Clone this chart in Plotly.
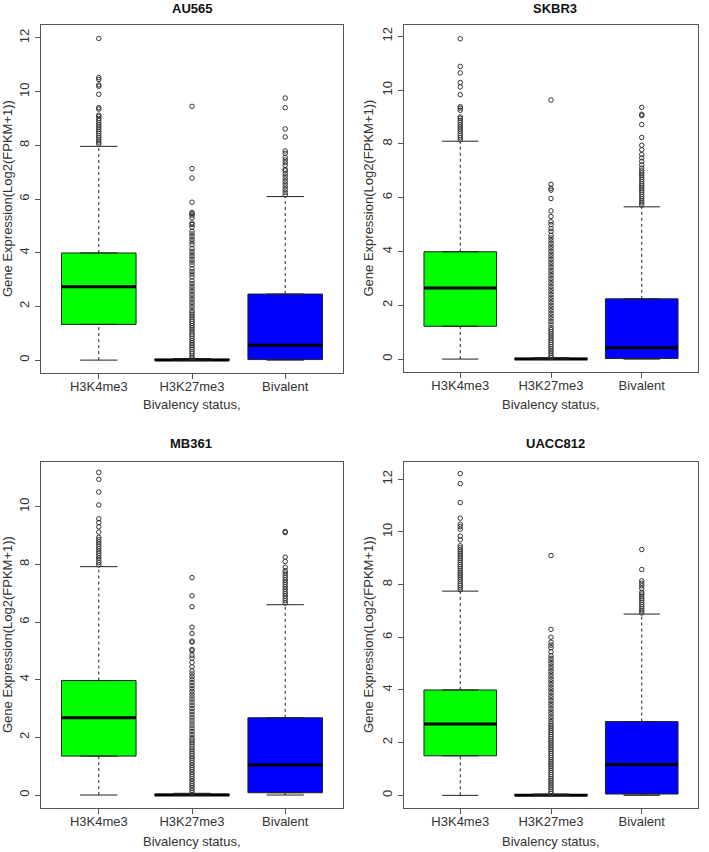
import plotly.graph_objects as go

categories = ["H3K4me3", "H3K27me3", "Bivalent"]
cell_lines = ["AU565", "SKBR3", "MB361", "UACC812"]
box_colors = ["#00ff00", "#000000", "#0000ff"]

# box statistics, one row per cell line, one value per category
lower_whisker = [[0.0, 0.0, 0.0], [0.0, 0.0, 0.0], [0.0, 0.0, 0.0], [0.0, 0.0, 0.0]]
q1 = [[1.33, 0.0, 0.02], [1.22, 0.0, 0.02], [1.35, 0.0, 0.08], [1.5, 0.0, 0.05]]
median = [[2.73, 0.0, 0.55], [2.64, 0.0, 0.42], [2.68, 0.0, 1.04], [2.71, 0.0, 1.17]]
q3 = [[3.99, 0.03, 2.46], [3.99, 0.03, 2.24], [3.97, 0.03, 2.68], [4.0, 0.03, 2.8]]
upper_whisker = [[7.96, 0.06, 6.09], [8.1, 0.05, 5.66], [7.92, 0.06, 6.6], [7.75, 0.05, 6.88]]

# outliers
au565_h3k4 = [8.05, 8.12, 8.2, 8.28, 8.36, 8.44, 8.52, 8.6, 8.68, 8.76, 8.84, 8.92, 9.0, 9.08, 9.12,
              9.35, 9.4, 9.9, 10.2, 10.25, 10.45, 10.52, 11.98]
au565_h3k27 = [0.08, 0.16, 0.24, 0.32, 0.4, 0.48, 0.56, 0.64, 0.72, 0.8, 0.88, 0.96, 1.04, 1.12, 1.2,
               1.28, 1.36, 1.44, 1.52, 1.6, 1.68, 1.76, 1.84, 1.95, 2.05, 2.15, 2.25, 2.35, 2.45, 2.55,
               2.65, 2.75, 2.85, 2.95, 3.1, 3.2, 3.3, 3.4, 3.55, 3.65, 3.75, 3.85, 3.95, 4.05, 4.15,
               4.3, 4.4, 4.5, 4.6, 4.7, 4.8, 4.95, 5.05, 5.1, 5.3, 5.4, 5.45, 5.5, 5.88, 6.78, 7.13, 9.45]
au565_biv = [6.15, 6.25, 6.35, 6.45, 6.55, 6.65, 6.75, 6.85, 6.95, 7.05, 7.1, 7.25, 7.35, 7.45, 7.55,
             7.7, 7.79, 8.31, 8.61, 9.4, 9.76]

skbr3_h3k4 = [8.15, 8.23, 8.31, 8.39, 8.47, 8.55, 8.63, 8.71, 8.79, 8.87, 8.95, 9.0, 9.25, 9.33, 9.38,
              9.83, 10.12, 10.28, 10.64, 10.88, 11.91]
skbr3_h3k27 = [0.06, 0.14, 0.22, 0.3, 0.38, 0.46, 0.54, 0.62, 0.7, 0.78, 0.86, 0.94, 1.02, 1.1, 1.18,
               1.3, 1.4, 1.5, 1.6, 1.7, 1.8, 1.9, 2.0, 2.1, 2.2, 2.3, 2.4, 2.5, 2.6, 2.7, 2.8, 2.9, 3.0,
               3.1, 3.2, 3.3, 3.4, 3.5, 3.6, 3.7, 3.8, 3.9, 4.0, 4.1, 4.2, 4.3, 4.4, 4.5, 4.6, 4.75,
               4.85, 5.0, 5.1, 5.3, 5.51, 5.97, 6.28, 6.35, 6.5, 9.63]
skbr3_biv = [5.72, 5.8, 5.88, 5.96, 6.04, 6.12, 6.2, 6.28, 6.36, 6.44, 6.52, 6.6, 6.68, 6.76, 6.84,
             6.92, 7.0, 7.1, 7.22, 7.35, 7.48, 7.6, 7.78, 7.95, 8.24, 8.72, 9.05, 9.1, 9.36]

mb361_h3k4 = [7.98, 8.06, 8.14, 8.22, 8.3, 8.38, 8.46, 8.54, 8.62, 8.7, 8.78, 8.86, 8.94, 9.12, 9.3,
              9.45, 9.58, 10.06, 10.51, 10.95, 11.19]
mb361_h3k27 = [0.08, 0.16, 0.24, 0.32, 0.4, 0.48, 0.56, 0.64, 0.72, 0.8, 0.88, 0.96, 1.04, 1.12, 1.2,
               1.28, 1.36, 1.44, 1.52, 1.6, 1.68, 1.76, 1.84, 1.92, 2.0, 2.1, 2.2, 2.3, 2.4, 2.5, 2.6,
               2.7, 2.8, 2.9, 3.0, 3.1, 3.2, 3.3, 3.4, 3.5, 3.6, 3.7, 3.8, 3.9, 4.0, 4.1, 4.2, 4.3,
               4.45, 4.6, 4.75, 4.85, 5.0, 5.05, 5.3, 5.34, 5.6, 5.82, 6.53, 6.91, 7.54]
mb361_biv = [6.66, 6.74, 6.82, 6.9, 6.98, 7.06, 7.14, 7.22, 7.3, 7.38, 7.46, 7.54, 7.62, 7.7, 7.78,
             7.9, 8.1, 8.25, 9.1, 9.14]

uacc812_h3k4 = [7.8, 7.88, 7.96, 8.04, 8.12, 8.2, 8.28, 8.36, 8.44, 8.52, 8.6, 8.68, 8.76, 8.84, 8.92,
                9.0, 9.08, 9.16, 9.24, 9.32, 9.4, 9.47, 9.7, 9.84, 10.1, 10.2, 10.29, 10.52, 11.11,
                11.83, 12.21]
uacc812_h3k27 = [0.07, 0.15, 0.23, 0.31, 0.39, 0.47, 0.55, 0.63, 0.71, 0.79, 0.87, 0.95, 1.03, 1.11,
                 1.19, 1.27, 1.35, 1.43, 1.51, 1.59, 1.67, 1.75, 1.83, 1.91, 1.99, 2.07, 2.15, 2.23,
                 2.31, 2.39, 2.47, 2.55, 2.63, 2.71, 2.8, 2.9, 3.0, 3.1, 3.2, 3.3, 3.4, 3.5, 3.6, 3.7,
                 3.8, 3.9, 4.0, 4.1, 4.2, 4.3, 4.4, 4.5, 4.6, 4.7, 4.8, 4.9, 5.0, 5.1, 5.2, 5.3, 5.45,
                 5.6, 5.7, 5.81, 6.0, 6.3, 9.1]
uacc812_biv = [6.92, 7.0, 7.08, 7.16, 7.24, 7.32, 7.4, 7.48, 7.56, 7.64, 7.7, 7.85, 7.95, 8.05, 8.14,
               8.57, 9.33]

outliers = [[au565_h3k4, au565_h3k27, au565_biv],
            [skbr3_h3k4, skbr3_h3k27, skbr3_biv],
            [mb361_h3k4, mb361_h3k27, mb361_biv],
            [uacc812_h3k4, uacc812_h3k27, uacc812_biv]]

W, H = 709, 852
FONT = "Liberation Sans, Arial, sans-serif"

# panel frames in pixels (left, right, top, bottom)
frames = [(41, 343, 25, 373), (404, 698, 25, 372), (41, 343, 462, 808), (404, 698, 462, 808)]
y_ranges = [(-0.48, 12.48), (-0.48, 12.42), (-0.45, 11.55), (-0.48, 12.65)]
y_ticks = [[0, 2, 4, 6, 8, 10, 12], [0, 2, 4, 6, 8, 10, 12], [0, 2, 4, 6, 8, 10], [0, 2, 4, 6, 8, 10, 12]]
title_pos = [(192, 8), (555, 8), (191, 443), (555, 443)]
xlab_y = [405, 405, 841, 841]
ylab_x = [7, 368, 7, 368]

fig = go.Figure()
layout = dict(width=W, height=H, margin=dict(l=0, r=0, t=0, b=0), autosize=False,
              plot_bgcolor="white", paper_bgcolor="white", showlegend=False,
              font=dict(family=FONT, size=13, color="#333"))
annotations = []

for p in range(4):
    sfx = "" if p == 0 else str(p + 1)
    xa, ya = "x" + sfx, "y" + sfx
    l, r, t, b = frames[p]
    axis_common = dict(showline=True, linecolor="#555", linewidth=1, mirror=True, showgrid=False,
                       zeroline=False, ticks="outside", ticklen=5, tickcolor="#555",
                       tickfont=dict(family=FONT, size=13, color="#333"))
    layout["xaxis" + sfx] = dict(axis_common, domain=[l / W, r / W], anchor=ya,
                                 range=[0.38, 3.62], tickvals=[1, 2, 3], ticktext=categories,
                                 ticklabelstandoff=-4)
    layout["yaxis" + sfx] = dict(axis_common, domain=[1 - b / H, 1 - t / H], anchor=xa,
                                 range=list(y_ranges[p]), tickvals=y_ticks[p], tickangle=-90,
                                 ticklabelstandoff=1)

    wx, wy, cx, cy = [], [], [], []
    for c in range(3):
        pos = c + 1
        fig.add_trace(go.Box(
            x=[pos], q1=[q1[p][c]], median=[median[p][c]], q3=[q3[p][c]],
            lowerfence=[q1[p][c]], upperfence=[q3[p][c]], width=0.8,
            fillcolor=box_colors[c], line=dict(color="#222", width=1),
            boxpoints=False, xaxis=xa, yaxis=ya, hoverinfo="skip"))
        wx += [pos, pos, None, pos, pos, None]
        wy += [lower_whisker[p][c], q1[p][c], None, q3[p][c], upper_whisker[p][c], None]
        cx += [pos - 0.2, pos + 0.2, None, pos - 0.2, pos + 0.2, None]
        cy += [lower_whisker[p][c], lower_whisker[p][c], None,
               upper_whisker[p][c], upper_whisker[p][c], None]
        fig.add_trace(go.Scatter(x=[pos - 0.4, pos + 0.4], y=[median[p][c], median[p][c]],
                                 mode="lines", line=dict(color="black", width=3),
                                 xaxis=xa, yaxis=ya, hoverinfo="skip"))

    fig.add_trace(go.Scatter(x=wx, y=wy, mode="lines",
                             line=dict(color="#222", width=1, dash="3px,3px"),
                             xaxis=xa, yaxis=ya, hoverinfo="skip"))
    fig.add_trace(go.Scatter(x=cx, y=cy, mode="lines", line=dict(color="#222", width=1),
                             xaxis=xa, yaxis=ya, hoverinfo="skip"))
    for c in range(3):
        vals = outliers[p][c]
        fig.add_trace(go.Scatter(x=[c + 1] * len(vals), y=vals, mode="markers",
                                 marker=dict(symbol="circle-open", size=4.5, color="#333",
                                             line=dict(width=1, color="#333")),
                                 xaxis=xa, yaxis=ya, hoverinfo="skip"))

    tx, ty = title_pos[p]
    annotations.append(dict(text="<b>" + cell_lines[p] + "</b>", x=tx / W, y=1 - ty / H,
                            xref="paper", yref="paper", showarrow=False, xanchor="center",
                            yanchor="middle", font=dict(family=FONT, size=13, color="#111")))
    annotations.append(dict(text="Bivalency status,", x=(l + r) / 2 / W, y=1 - xlab_y[p] / H,
                            xref="paper", yref="paper", showarrow=False, xanchor="center",
                            yanchor="middle", font=dict(family=FONT, size=13, color="#333")))
    annotations.append(dict(text="Gene Expression(Log2(FPKM+1))", x=ylab_x[p] / W,
                            y=1 - (t + b) / 2 / H, xref="paper", yref="paper", showarrow=False,
                            textangle=-90, xanchor="center", yanchor="middle",
                            font=dict(family=FONT, size=13, color="#333")))

layout["annotations"] = annotations
fig.update_layout(**layout)
fig.write_html("out.html", config={"displayModeBar": False},
               post_script="document.body.style.margin='0';")
